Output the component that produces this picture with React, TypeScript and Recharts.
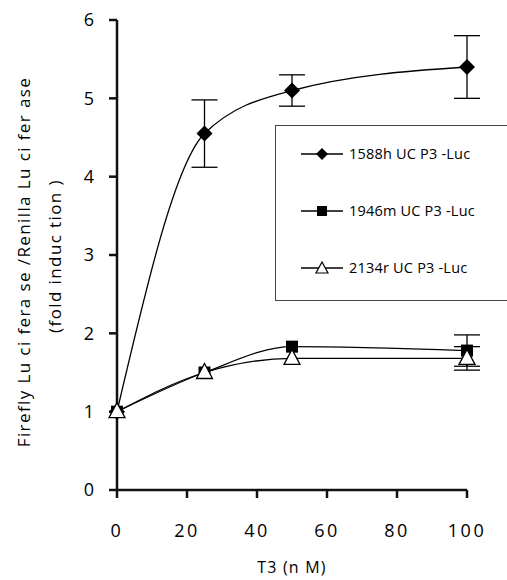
import React from "react";
import { LineChart, Line, XAxis, YAxis, ErrorBar } from "recharts";

const doses = [0, 25, 50, 100];
const xTicks = [0, 20, 40, 60, 80, 100];
const yTicks = [0, 1, 2, 3, 4, 5, 6];

const luc1588 = [1, 4.55, 5.1, 5.4];
const err1588 = [0, 0.43, 0.2, 0.4];
const luc1946 = [1, 1.5, 1.83, 1.78];
const err1946 = [0, 0, 0, 0.2];
const luc2134 = [1, 1.5, 1.68, 1.68];
const err2134 = [0, 0, 0, 0.15];

const seriesNames = ["1588h UC P3 -Luc", "1946m UC P3 -Luc", "2134r UC P3 -Luc"];

const data = doses.map((d, i) => ({
  dose: d,
  a: luc1588[i],
  aErr: err1588[i],
  b: luc1946[i],
  bErr: err1946[i],
  c: luc2134[i],
  cErr: err2134[i],
}));

const FONT = "'Open Sans', sans-serif";

const DiamondDot = (props: any) => {
  const { cx, cy, index } = props;
  if (cx == null || cy == null) return null;
  const r = 8;
  return (
    <path
      key={`dia-${index}`}
      d={`M${cx},${cy - r}L${cx + r},${cy}L${cx},${cy + r}L${cx - r},${cy}Z`}
      fill="#000"
    />
  );
};

const SquareDot = (props: any) => {
  const { cx, cy, index } = props;
  if (cx == null || cy == null) return null;
  return <rect key={`sq-${index}`} x={cx - 6} y={cy - 6} width={12} height={12} fill="#000" />;
};

const TriangleDot = (props: any) => {
  const { cx, cy, index } = props;
  if (cx == null || cy == null) return null;
  return (
    <path
      key={`tri-${index}`}
      d={`M${cx},${cy - 9}L${cx + 8},${cy + 6}L${cx - 8},${cy + 6}Z`}
      fill="#fff"
      stroke="#000"
      strokeWidth={1.3}
    />
  );
};

const legendMarkers = [
  (x: number, y: number) => (
    <path d={`M${x},${y - 6}L${x + 6},${y}L${x},${y + 6}L${x - 6},${y}Z`} fill="#000" />
  ),
  (x: number, y: number) => <rect x={x - 5} y={y - 5} width={10} height={10} fill="#000" />,
  (x: number, y: number) => (
    <path d={`M${x},${y - 6}L${x + 6},${y + 5}L${x - 6},${y + 5}Z`} fill="#fff" stroke="#000" strokeWidth={1.2} />
  ),
];

// legend box sits on the right edge, its right border falls off the page
const LegendBox = () => (
  <div
    style={{
      position: "absolute",
      left: 275,
      top: 125,
      width: 240,
      height: 176,
      border: "1px solid #444",
      boxSizing: "border-box",
      background: "#fff",
    }}
  >
    <svg width={240} height={174} style={{ display: "block" }}>
      {seriesNames.map((name, i) => {
        const y = 28 + i * 57;
        return (
          <g key={name}>
            <line x1={25} x2={67} y1={y} y2={y} stroke="#000" strokeWidth={1.3} />
            {legendMarkers[i](46, y)}
            <text x={73} y={y + 5} fontSize={14.5} fontFamily={FONT} fill="#000" letterSpacing={0.2}>
              {name}
            </text>
          </g>
        );
      })}
    </svg>
  </div>
);

const YLabel = () => (
  <g fontFamily={FONT} fontSize={17} fill="#000" letterSpacing={1.4}>
    <text transform="translate(30,262) rotate(-90)" textAnchor="middle">
      Firefly Lu ci fera se /Renilla Lu ci fer ase
    </text>
    <text transform="translate(61,256) rotate(-90)" textAnchor="middle">
      (fold induc tion )
    </text>
  </g>
);

export default function App() {
  return (
    <div
      style={{
        position: "absolute",
        left: 0,
        top: 0,
        width: 507,
        height: 580,
        overflow: "hidden",
        background: "#fff",
      }}
    >
      <LineChart
        width={507}
        height={580}
        data={data}
        margin={{ top: 20, right: 40, bottom: 60, left: 77 }}
      >
        <XAxis
          dataKey="dose"
          type="number"
          domain={[0, 100]}
          ticks={xTicks}
          height={30}
          axisLine={{ stroke: "#111", strokeWidth: 2.5 }}
          tickLine={{ stroke: "#111", strokeWidth: 2.5 }}
          tickSize={8}
          tick={{ fill: "#000", fontSize: 18, fontFamily: FONT, dy: 24, letterSpacing: 2.5 }}
          label={{
            value: "T3  (n M)",
            position: "insideBottom",
            offset: -53,
            fill: "#000",
            fontSize: 16,
            fontFamily: FONT,
            letterSpacing: 1.2,
          }}
        />
        <YAxis
          type="number"
          domain={[0, 6]}
          ticks={yTicks}
          width={40}
          axisLine={{ stroke: "#111", strokeWidth: 2.5 }}
          tickLine={{ stroke: "#111", strokeWidth: 2.5 }}
          tickSize={8}
          tick={{ fill: "#000", fontSize: 18, fontFamily: FONT, dx: -13 }}
          label={{ content: () => <YLabel /> }}
        />
        <Line
          dataKey="a"
          type="monotone"
          stroke="#000"
          strokeWidth={1.3}
          dot={DiamondDot}
          activeDot={false}
          isAnimationActive={false}
        >
          <ErrorBar dataKey="aErr" direction="y" width={13} stroke="#000" strokeWidth={1.3} />
        </Line>
        <Line
          dataKey="b"
          type="monotone"
          stroke="#000"
          strokeWidth={1.3}
          dot={SquareDot}
          activeDot={false}
          isAnimationActive={false}
        >
          <ErrorBar dataKey="bErr" direction="y" width={13} stroke="#000" strokeWidth={1.3} />
        </Line>
        <Line
          dataKey="c"
          type="monotone"
          stroke="#000"
          strokeWidth={1.3}
          dot={TriangleDot}
          activeDot={false}
          isAnimationActive={false}
        >
          <ErrorBar dataKey="cErr" direction="y" width={13} stroke="#000" strokeWidth={1.3} />
        </Line>
      </LineChart>
      <LegendBox />
    </div>
  );
}
